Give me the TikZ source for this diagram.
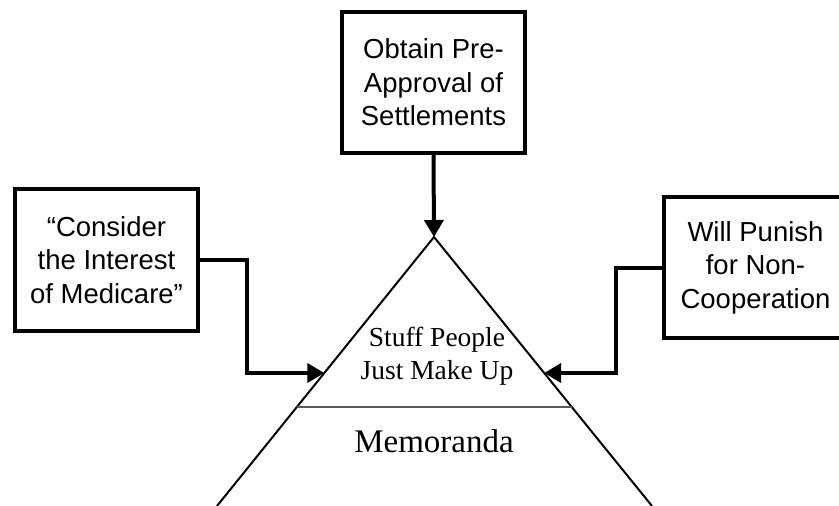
\documentclass[tikz,border=0pt]{standalone}
\usepackage{fontspec}
\setmainfont{Liberation Serif}
\newfontfamily\labelfont{Liberation Sans}
\usetikzlibrary{arrows.meta,calc}

\tikzset{
  demand/.style={draw, line width=4pt, minimum width=183pt, minimum height=141pt,
    align=center, inner sep=0pt, font=\labelfont\fontsize{27.5}{33.5}\selectfont},
  push/.style={line width=4pt, -{Triangle[length=17pt,width=19pt]}},
}

\begin{document}
\begin{tikzpicture}[x=1pt,y=-1pt]

\useasboundingbox (0,0) rectangle (839,506);

% pyramid
\coordinate (apex) at (434,237);
\coordinate (base-l) at (217,506);
\coordinate (base-r) at (652,506);
\draw[line width=2pt] (base-l) -- (apex) -- (base-r);

\draw[gray!70!black, line width=1.2pt] ($(apex)!170/269!(base-l)$) coordinate (split-l) -- ($(apex)!170/269!(base-r)$) coordinate (split-r);

\coordinate (in-l) at ($(apex)!136/269!(base-l)$);
\coordinate (in-r) at ($(apex)!136/269!(base-r)$);

\node[align=center, inner sep=0pt, font=\fontsize{27.5}{33}\selectfont] (made-up) at (437,356) {Stuff People\\Just Make Up};

\node[inner sep=0pt, font=\fontsize{33}{38}\selectfont] (memo) at (434,441) {Memoranda};

% boxes
\node[demand] (approval) at (433.5,82.5) {Obtain Pre-\\Approval of\\Settlements};

\node[demand, minimum height=142pt] (consider) at (106.5,260) {“Consider\\the Interest\\of Medicare”};

\node[demand] (punish) at (755.5,267.5) {Will Punish\\for Non-\\Cooperation};

% arrows
\draw[push] (approval.south) -- (apex);
\draw[push] (consider.east) -- ++(47,0) |- (in-l);
\draw[push] (punish.west) -- ++(-46,0) |- (in-r);

\end{tikzpicture}
\end{document}
